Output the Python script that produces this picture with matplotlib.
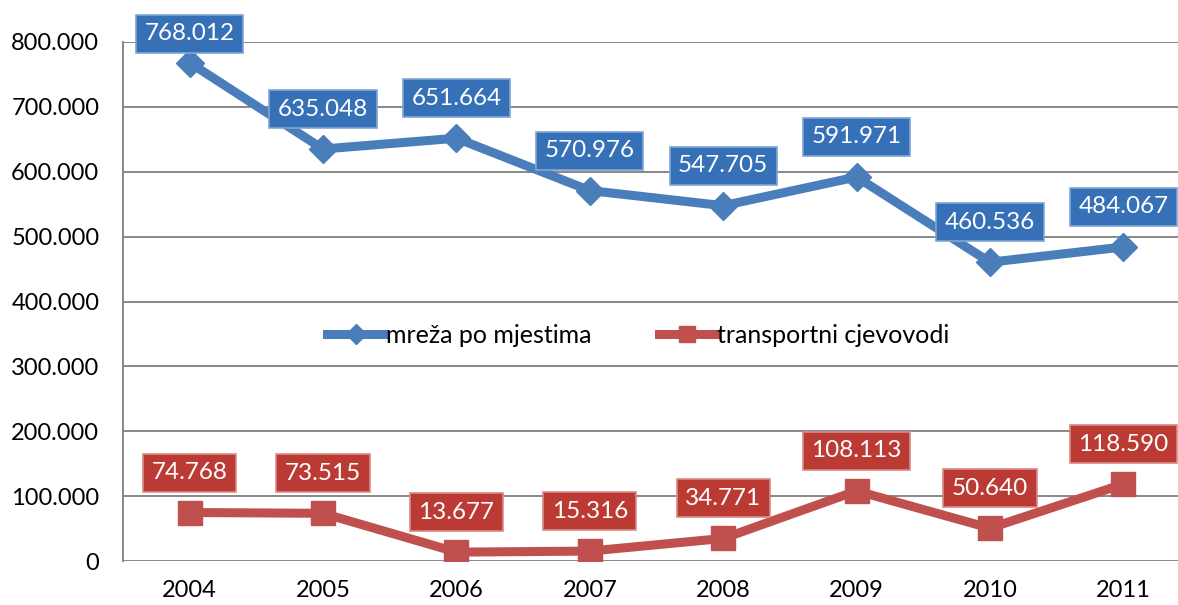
import matplotlib
matplotlib.use('Agg')
import matplotlib.pyplot as plt
from matplotlib.ticker import FuncFormatter

years = ['2004', '2005', '2006', '2007', '2008', '2009', '2010', '2011']
mreza = [768012, 635048, 651664, 570976, 547705, 591971, 460536, 484067]
transport = [74768, 73515, 13677, 15316, 34771, 108113, 50640, 118590]

blue = '#4A7EBB'
red = '#C0504D'

plt.rcParams['font.family'] = ['Lato', 'DejaVu Sans']

fig = plt.figure(figsize=(11.78, 6.05), dpi=100)
ax = fig.add_axes([0.1044, 0.0727, 0.9058, 0.8579])

x = list(range(len(years)))
ax.plot(x, mreza, color=blue, lw=6.5, marker='D', ms=14, mec=blue,
        label='mreža po mjestima', zorder=3)
ax.plot(x, transport, color=red, lw=6.5, marker='s', ms=17, mec=red,
        label='transportni cjevovodi', zorder=3)

ax.set_xlim(-0.5, 7.5)
ax.set_ylim(0, 800000)
ax.set_yticks(range(0, 800001, 100000))
ax.yaxis.set_major_formatter(FuncFormatter(lambda v, p: f'{int(v):,}'.replace(',', '.')))
ax.set_xticks(x)
ax.set_xticklabels(years)
ax.tick_params(length=0, labelsize=17, colors='black')
ax.tick_params(axis='x', pad=14)
ax.tick_params(axis='y', pad=17)
ax.grid(axis='y', color='#888888', lw=1.4)
ax.set_axisbelow(True)
for s in ['top', 'right', 'bottom']:
    ax.spines[s].set_visible(False)
ax.spines['left'].set_color('#888888')
ax.spines['left'].set_linewidth(1.4)

fig.canvas.draw()
fig_h = fig.get_size_inches()[1] * fig.dpi


def label(vals, face, edge):
    for xi, v in zip(x, vals):
        px, py = ax.transData.transform((xi, v))
        cy = py + 40
        # keep the box inside the figure
        cy = min(cy, fig_h - 34)
        ax.annotate(f'{v:,}'.replace(',', '.'), (xi, v),
                    xytext=(0, (cy - py) * 72 / fig.dpi), textcoords='offset points',
                    ha='center', va='center', fontsize=17.5, color='white',
                    annotation_clip=False, zorder=5,
                    bbox=dict(boxstyle='square,pad=0.35', fc=face, ec=edge, lw=1.2))


label(mreza, '#3670B6', '#7FA5D6')
label(transport, '#BC3A34', '#D98A86')

leg = ax.legend(loc='center', bbox_to_anchor=(0.483, 0.435), ncol=2, frameon=False,
                fontsize=18, handlelength=2.3, handletextpad=0.05, columnspacing=2.7,
                markerscale=0.7)

fig.savefig('out.png', dpi=100)
